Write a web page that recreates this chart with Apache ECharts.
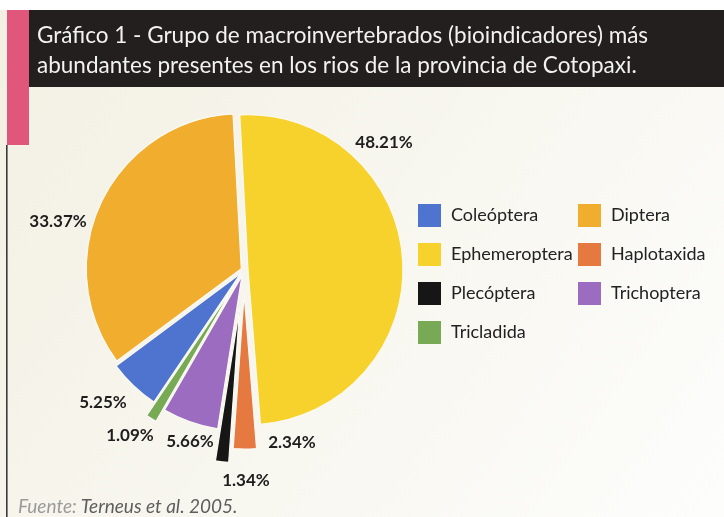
<!DOCTYPE html>
<html>
<head>
<meta charset="utf-8">
<script src="https://cdn.jsdelivr.net/npm/echarts@6/dist/echarts.min.js"></script>
<style>
  html, body { margin: 0; padding: 0; background: #ffffff; }
  #chart { width: 724px; height: 517px; }
</style>
</head>
<body>
<div id="chart"></div>
<script>
// Macroinvertebrate groups (bioindicators) in the rivers of Cotopaxi, share of total (%)
const categories = ['Coleóptera', 'Diptera', 'Ephemeroptera', 'Haplotaxida', 'Plecóptera', 'Trichoptera', 'Tricladida'];
const shares = [5.25, 33.37, 48.21, 2.34, 1.34, 5.66, 1.09];

// Styling per group: fill colour, how far each slice is pulled out, where its percentage sits
const colors = ['#4f74cf', '#f1ad2e', '#f8d22c', '#e6793f', '#161616', '#9b6cbf', '#78aa56'];
const pullOut = [5, 3, 4, 24, 38, 6, 20];
const labelSpots = [[103, 403], [58, 222], [384, 143], [292, 443], [246, 481], [190, 442], [130, 436]];

const FONT = 'Lato';
const PIE_CENTER = [244, 270];
const PIE_RADIUS = 155;

const chart = echarts.init(document.getElementById('chart'), null, { renderer: 'canvas' });

const pieBase = {
  type: 'pie',
  center: PIE_CENTER,
  radius: [0, PIE_RADIUS],
  startAngle: 236,
  clockwise: true,
  animation: false,
  avoidLabelOverlap: false,
  label: { show: false },
  labelLine: { show: false },
  emphasis: { disabled: true },
  selectedMode: 'multiple'
};

// One layer per group: all values keep the angles shared, only that group's slice is painted and pulled out
const sliceSeries = categories.map((name, i) => Object.assign({}, pieBase, {
  id: 'slice-' + i,
  selectedOffset: pullOut[i],
  data: categories.map((n, j) => ({
    name: n,
    value: shares[j],
    selected: j === i,
    itemStyle: j === i
      ? { color: colors[j], borderColor: '#fbfaf4', borderWidth: 1.2 }
      : { color: 'rgba(0,0,0,0)', borderWidth: 0 }
  }))
}));

// Percentage labels on an invisible layer
const labelSeries = Object.assign({}, pieBase, {
  id: 'pct-labels',
  selectedMode: false,
  z: 5,
  data: categories.map((n, j) => ({
    name: n,
    value: shares[j],
    itemStyle: { color: 'rgba(0,0,0,0)', borderWidth: 0 }
  })),
  label: {
    show: true,
    position: 'outside',
    formatter: p => p.value.toFixed(2) + '%',
    color: '#1e1e1e',
    fontFamily: FONT,
    fontWeight: 'bold',
    fontSize: 17
  },
  labelLine: { show: false },
  labelLayout: p => ({
    x: labelSpots[p.dataIndex][0],
    y: labelSpots[p.dataIndex][1],
    align: 'center',
    verticalAlign: 'middle'
  })
});

function legendColumn(indices, left) {
  return {
    orient: 'vertical',
    left: left,
    top: 204,
    padding: 0,
    itemWidth: 23,
    itemHeight: 23,
    itemGap: 16,
    icon: 'rect',
    selectedMode: false,
    itemStyle: { borderWidth: 0 },
    textStyle: { fontFamily: FONT, fontSize: 18, color: '#222222', padding: [0, 0, 0, 5] },
    data: indices.map(i => ({ name: categories[i], itemStyle: { color: colors[i], borderWidth: 0 } }))
  };
}

chart.setOption({
  animation: false,
  backgroundColor: '#ffffff',
  title: {
    text: 'Gráfico 1 - Grupo de macroinvertebrados (bioindicadores) más\nabundantes presentes en los rios de la provincia de Cotopaxi.',
    left: 37,
    top: 21,
    padding: 0,
    textStyle: { color: '#f2f2f0', fontFamily: FONT, fontSize: 22.5, fontWeight: 'normal', lineHeight: 30 }
  },
  legend: [
    legendColumn([0, 2, 4, 6], 418),
    legendColumn([1, 3, 5], 578)
  ],
  graphic: [
    {
      type: 'rect', silent: true, z: -10,
      shape: { x: 0, y: 10, width: 724, height: 507 },
      style: {
        fill: new echarts.graphic.LinearGradient(0, 0, 1, 1, [
          { offset: 0, color: '#f3f0e3' },
          { offset: 0.55, color: '#f8f7f0' },
          { offset: 1, color: '#fdfdfc' }
        ])
      }
    },
    { type: 'rect', silent: true, z: -5, shape: { x: 29, y: 10, width: 695, height: 77 }, style: { fill: '#221f1e' } },
    { type: 'rect', silent: true, z: -5, shape: { x: 7, y: 10, width: 22, height: 135 }, style: { fill: '#e0577b' } },
    { type: 'rect', silent: true, z: -5, shape: { x: 6, y: 145, width: 1.6, height: 372 }, style: { fill: '#3a3a3a' } },
    {
      type: 'text', silent: true, z: 10,
      x: 18, y: 507,
      style: {
        text: '{a|Fuente:}{b|Terneus et al. 2005.}',
        verticalAlign: 'middle',
        rich: {
          a: { fontFamily: FONT, fontStyle: 'italic', fontSize: 19, fill: '#9a9a9a', padding: [0, 4, 0, 0] },
          b: { fontFamily: FONT, fontStyle: 'italic', fontSize: 19, fill: '#5e5e5e' }
        }
      }
    }
  ],
  series: sliceSeries.concat([labelSeries])
});
</script>
</body>
</html>
